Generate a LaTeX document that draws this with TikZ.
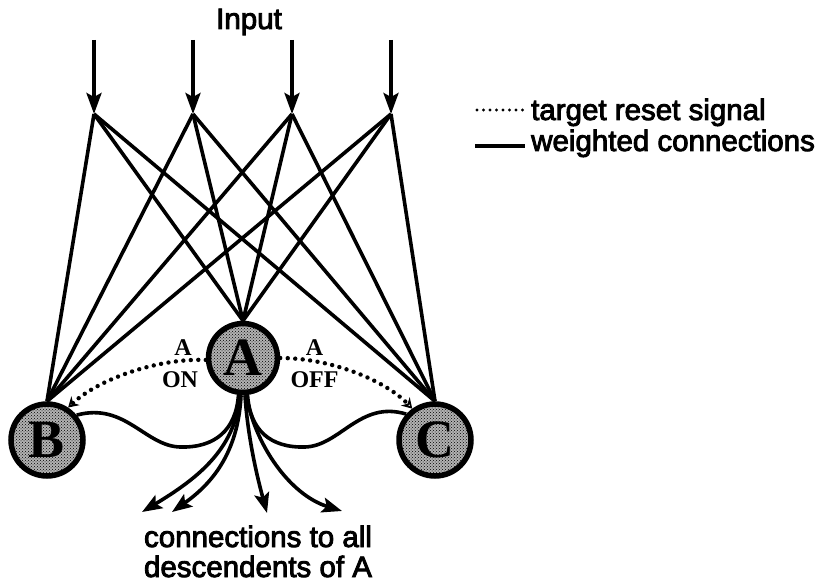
\documentclass[tikz,border=0pt]{standalone}
\usepackage{fontspec}
\setmainfont{Liberation Sans}
\newfontfamily\heavysans{Liberation Sans}[FakeBold=3]
\newfontfamily\rmserif{Liberation Serif}
\usetikzlibrary{arrows.meta,patterns}

\begin{document}
\begin{tikzpicture}[x=1pt,y=-1pt,
  link/.style={line width=3.6pt},
  inarrow/.style={line width=3.6pt,-{Stealth[length=21pt,width=15pt,inset=4pt]}},
  descarrow/.style={line width=3.6pt,-{Stealth[length=20pt,width=15pt,inset=4pt]}},
  reset/.style={line width=4.4pt,line cap=round,dash pattern=on 0pt off 7.5pt,
    -{Stealth[open,length=10pt,width=12pt,line width=3pt]}},
  neuron/.style={circle,draw,line width=5.5pt,inner sep=0pt,minimum size=#1,
    preaction={fill=gray!60},pattern=crosshatch dots,
    font=\rmserif\bfseries\fontsize{54}{54}\selectfont},
  tag/.style={font=\rmserif\bfseries\fontsize{24}{24}\selectfont,inner sep=0pt,anchor=base},
  label/.style={font=\heavysans\fontsize{29.5}{30}\selectfont,inner sep=0pt}
]
\useasboundingbox (0,0) rectangle (826,585);

% units
\node[neuron=69pt] (A) at (243,358) {A};
\node[neuron=72pt] (B) at (47,440) {B};
\node[neuron=72pt] (C) at (435,440) {C};

% input lines
\node[label,anchor=base] (input) at (249,29) {Input};
\foreach \k/\x in {1/94,2/193,3/292,4/391}{
  \coordinate (t\k) at (\x,40);
  \coordinate (i\k) at (\x,114);
  \draw[inarrow] (t\k) -- (i\k);
  \draw[link] (i\k) -- (A.north);
  \draw[link] (i\k) -- (B.north);
  \draw[link] (i\k) -- (C.north);
}

% target reset signals
\draw[reset] (A.183) .. controls (160,358) and (100,378) .. (B.57);
\draw[reset] (A.0) .. controls (330,358) and (385,380) .. (C.126);
\node[tag] (aon) at (183,355) {A};
\node[tag] (on) at (180,387) {ON};
\node[tag] (aoff) at (314.5,355) {A};
\node[tag] (off) at (314.5,387) {OFF};

% weighted connections from A to B and C
\draw[link] (A.-97) .. controls (236,430) and (215,448) .. (180,447)
  .. controls (145,446) and (125,402) .. (B.40);
\draw[link] (A.-83) .. controls (250,430) and (270,448) .. (305,447)
  .. controls (340,446) and (360,400) .. (C.138);

% connections to descendents
\coordinate (d1) at (142,512);
\coordinate (d2) at (172,512);
\coordinate (d3) at (267,513);
\coordinate (d4) at (342,511);
\draw[descarrow] (A.-95) .. controls (236,450) and (195,480) .. (d1);
\draw[descarrow] (A.-93) .. controls (238,455) and (210,485) .. (d2);
\draw[descarrow] (A.-87) .. controls (248,440) and (258,480) .. (d3);
\draw[descarrow] (A.-85) .. controls (255,445) and (290,495) .. (d4);
\node[label,align=center,anchor=base] (desc) at (258,577)
  {connections to all\\descendents of A};

% legend
\coordinate (l1a) at (477,110);
\coordinate (l1b) at (527,110);
\coordinate (l2a) at (475,146);
\coordinate (l2b) at (525,146);
\draw[line width=3.2pt,line cap=round,dash pattern=on 0pt off 6.5pt] (l1a) -- (l1b);
\draw[line width=3.6pt] (l2a) -- (l2b);
\node[label,anchor=base west] (leg1) at (531,120) {target reset signal};
\node[label,anchor=base west] (leg2) at (531,151) {weighted connections};
\end{tikzpicture}
\end{document}
